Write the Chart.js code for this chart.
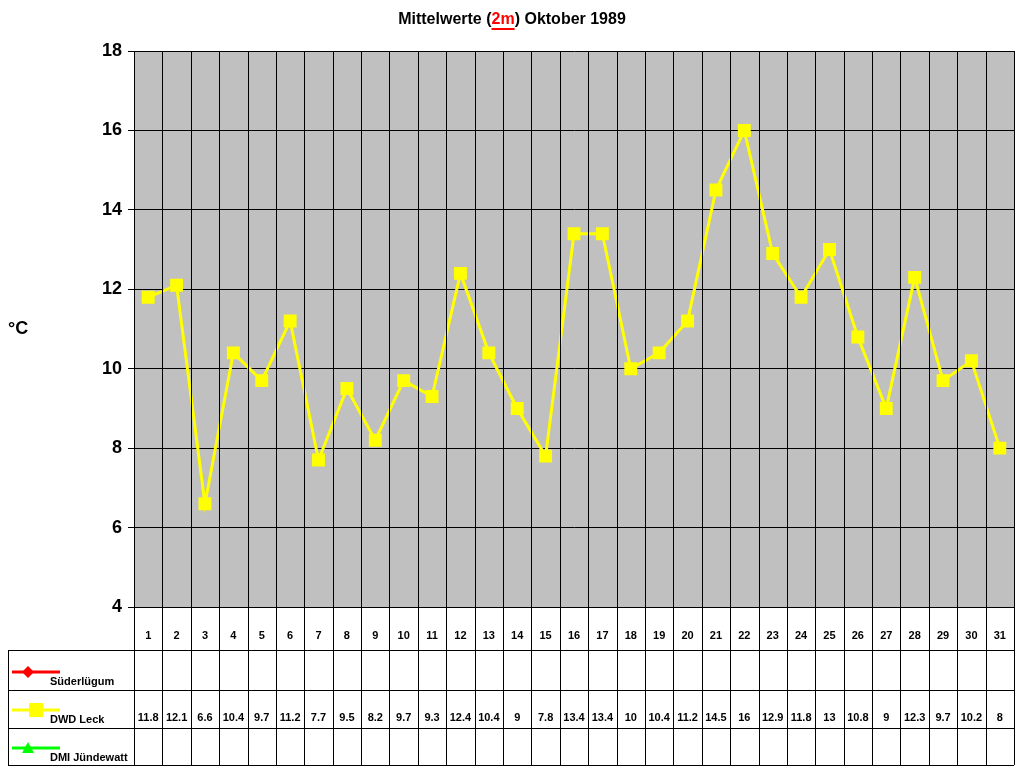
<!DOCTYPE html>
<html><head><meta charset="utf-8">
<script src="https://cdn.jsdelivr.net/npm/chart.js@4"></script>
<style>body{margin:0;background:#fff}canvas{display:block}</style>
</head><body><canvas id="c" width="1024" height="768"></canvas>
<script>
const days = Array.from({length:31},(_,i)=>String(i+1));
const dwdLeck = [11.8,12.1,6.6,10.4,9.7,11.2,7.7,9.5,8.2,9.7,9.3,12.4,10.4,9,7.8,13.4,13.4,10,10.4,11.2,14.5,16,12.9,11.8,13,10.8,9,12.3,9.7,10.2,8];
const yTicks = [4,6,8,10,12,14,16,18];

const deco = {
  id:'deco',
  beforeDraw(ch){
    const {ctx, chartArea:a} = ch;
    ctx.save(); ctx.fillStyle='#c0c0c0'; ctx.fillRect(a.left,a.top,a.right-a.left,a.bottom-a.top); ctx.restore();
  },
  afterDatasetsDraw(ch){},
  afterDraw(ch){
    const {ctx, chartArea:a, scales:{x}} = ch;
    const w = x.getPixelForValue(1)-x.getPixelForValue(0);
    const rows=[650,690,728,765];
    ctx.save();
    ctx.strokeStyle='#000'; ctx.lineWidth=1;
    // vertical lines
    for(let i=0;i<=days.length;i++){
      const px=Math.round(x.getPixelForValue(0)-w/2+i*w)+0.5;
      ctx.beginPath(); ctx.moveTo(px,a.top); ctx.lineTo(px,765); ctx.stroke();
    }
    ctx.beginPath(); ctx.moveTo(8.5,650); ctx.lineTo(8.5,765); ctx.stroke();
    ctx.beginPath(); ctx.moveTo(a.left,a.bottom+0.5); ctx.lineTo(a.right,a.bottom+0.5); ctx.stroke();
    rows.forEach(r=>{ctx.beginPath(); ctx.moveTo(8,r+0.5); ctx.lineTo(a.right,r+0.5); ctx.stroke();});
    // labels
    ctx.fillStyle='#000'; ctx.font='bold 11px Arial, "Liberation Sans"'; ctx.textAlign='center'; ctx.textBaseline='middle';
    days.forEach((d,i)=>{
      const px=x.getPixelForValue(i);
      ctx.fillText(d,px,636);
      ctx.fillText(String(dwdLeck[i]),px,718);
    });
    // legend
    const leg=[['Süderlügum','#ff0000','diamond',672],['DWD Leck','#ffff00','square',710],['DMI Jündewatt','#00ff00','triangle',748]];
    leg.forEach(([t,c,s,y])=>{
      ctx.strokeStyle=c; ctx.lineWidth=3; ctx.beginPath(); ctx.moveTo(12,y); ctx.lineTo(60,y); ctx.stroke();
      ctx.fillStyle=c; ctx.beginPath();
      if(s==='diamond'){ctx.moveTo(28,y-6);ctx.lineTo(34,y);ctx.lineTo(28,y+6);ctx.lineTo(22,y);}
      else if(s==='square'){ctx.rect(29,y-7,14,14);}
      else {ctx.moveTo(28,y-6);ctx.lineTo(34,y+5);ctx.lineTo(22,y+5);}
      ctx.fill();
      ctx.fillStyle='#000'; ctx.textAlign='left'; ctx.fillText(t,50,y+10);
    });
    // title
    ctx.font='bold 16px Arial, "Liberation Sans"'; ctx.textAlign='left';
    const p1='Mittelwerte (', p2='2m', p3=') Oktober 1989';
    const tw=ctx.measureText(p1+p2+p3).width; let sx=512-tw/2;
    ctx.fillStyle='#000'; ctx.fillText(p1,sx,20); sx+=ctx.measureText(p1).width;
    ctx.fillStyle='#ff0000'; ctx.fillText(p2,sx,20);
    const w2=ctx.measureText(p2).width;
    ctx.fillRect(sx,28,w2,2); sx+=w2;
    ctx.fillStyle='#000'; ctx.fillText(p3,sx,20);
    ctx.font='bold 18px Arial, "Liberation Sans"'; ctx.fillText('°C',8,329);
    ctx.restore();
  }
};

new Chart(document.getElementById('c'),{
  type:'line',
  data:{labels:days,datasets:[{data:dwdLeck,borderColor:'#ffff00',backgroundColor:'#ffff00',borderWidth:3,pointStyle:'rect',pointRadius:7,pointHoverRadius:7,tension:0}]},
  options:{
    responsive:false,animation:false,
    layout:{padding:{left:0,top:51,right:4,bottom:161}},
    plugins:{legend:{display:false},tooltip:{enabled:false},title:{display:false}},
    scales:{
      x:{display:false,offset:true},
      y:{min:4,max:18,afterFit:s=>{s.width=134;},
         afterBuildTicks:s=>{s.ticks=yTicks.map(v=>({value:v}));},
         grid:{color:'#000',drawTicks:true,tickLength:6},border:{color:'#000'},
         ticks:{color:'#000',font:{size:18,weight:'bold',family:'Arial, "Liberation Sans"'},padding:6}}
    }
  },
  plugins:[deco]
});
</script></body></html>
